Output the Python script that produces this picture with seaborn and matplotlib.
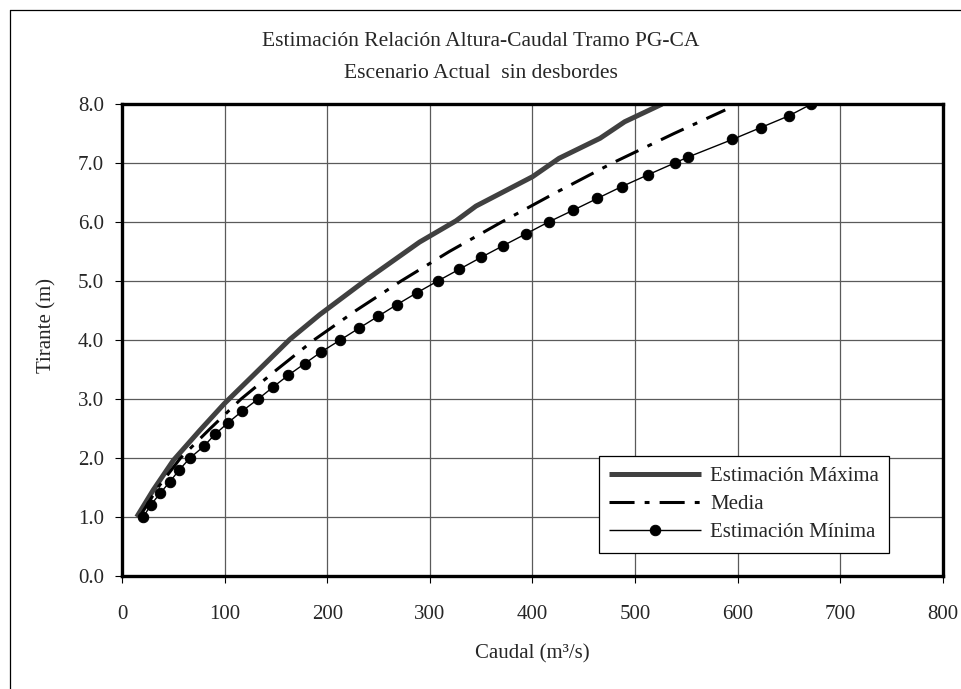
import numpy as np
import pandas as pd
import matplotlib
matplotlib.use("Agg")
import matplotlib.pyplot as plt
from matplotlib.lines import Line2D
import seaborn as sns

# ---- data ----
max_h = [1.0, 1.46, 1.96, 2.47, 2.92, 3.4, 4.01, 4.43, 5.02, 5.66, 6.02, 6.27, 6.77,
         7.08, 7.42, 7.7, 8.0]
max_q = [14.3, 30.5, 50.0, 75.9, 99.6, 127.8, 163.5, 192.7, 238.0, 290.0, 325.5, 345.0,
         400.3, 426.0, 466.0, 490.0, 526.5]

med_h = [1.0, 1.5, 2.0, 2.5, 3.0, 3.5, 4.0, 4.5, 5.0, 5.5, 6.0, 6.5, 7.0, 7.5, 7.9]
med_q = [17, 35, 57, 86, 116, 151, 187, 228, 272, 319, 370, 423, 478, 538, 588]

min_h = [1.0, 1.2, 1.4, 1.6, 1.8, 2.0, 2.2, 2.4, 2.6, 2.8, 3.0, 3.2, 3.4, 3.6, 3.8,
         4.0, 4.2, 4.4, 4.6, 4.8, 5.0, 5.2, 5.4, 5.6, 5.8, 6.0, 6.2, 6.4, 6.6, 6.8,
         7.0, 7.1, 7.4, 7.6, 7.8, 8.0]
min_q = [20.7, 27.9, 37.0, 46.7, 55.8, 66.2, 79.8, 90.5, 103.5, 117.4, 132.7, 147.0,
         161.8, 178.0, 194.3, 212.7, 230.9, 249.4, 267.9, 287.3, 307.7, 328.8, 349.9,
         371.6, 393.7, 415.7, 439.7, 463.3, 487.0, 512.6, 538.6, 551.6, 595.0, 622.5,
         650.0, 672.0]

labels = ["Estimación Máxima", "Media", "Estimación Mínima"]
x_ticks = [0, 100, 200, 300, 400, 500, 600, 700, 800]
y_ticks = [0.0, 1.0, 2.0, 3.0, 4.0, 5.0, 6.0, 7.0, 8.0]

# ---- style ----
sns.set_theme(style="white")
plt.rcParams['font.family'] = ['Liberation Serif', 'DejaVu Serif']
plt.rcParams['font.size'] = 15

FS = 15

fig = plt.figure(figsize=(9.61, 6.89), dpi=100)
ax = fig.add_axes([0.127, 0.164, 0.854, 0.685])

df_max = pd.DataFrame({"q": max_q, "h": max_h})
df_med = pd.DataFrame({"q": med_q, "h": med_h})
df_min = pd.DataFrame({"q": min_q, "h": min_h})

sns.lineplot(data=df_max, x="q", y="h", ax=ax, sort=False, estimator=None,
             color="#404040", linewidth=3.6, legend=False)
sns.lineplot(data=df_med, x="q", y="h", ax=ax, sort=False, estimator=None,
             color="black", linewidth=2.2, legend=False)
sns.lineplot(data=df_min, x="q", y="h", ax=ax, sort=False, estimator=None,
             color="black", linewidth=1.0, marker="o", markersize=7.5,
             markeredgecolor="black", markerfacecolor="black", legend=False)

lines = ax.get_lines()
lines[1].set_dashes((8.2, 3.3, 1.6, 3.3))
for ln in lines:
    ln.set_solid_capstyle("butt")
    ln.set_dash_capstyle("butt")
    ln.set_solid_joinstyle("round")

ax.set_xlim(0, 800)
ax.set_ylim(0, 8)
ax.set_xticks(x_ticks)
ax.set_yticks(y_ticks)
ax.set_xticklabels([str(t) for t in x_ticks])
ax.set_yticklabels([f"{t:.1f}" for t in y_ticks])
ax.grid(True, color="#5a5a5a", linewidth=0.9)
ax.set_axisbelow(True)
for sp in ax.spines.values():
    sp.set_visible(True)
    sp.set_color("black")
    sp.set_linewidth(2.4)

ax.tick_params(axis="x", direction="out", length=5, width=0.8, color="black",
               pad=16, labelsize=FS)
ax.tick_params(axis="y", direction="out", length=5, width=0.8, color="black",
               pad=8, labelsize=FS)
ax.xaxis.set_ticks_position("bottom")
ax.yaxis.set_ticks_position("left")

ax.set_xlabel("Caudal (m³/s)", fontsize=FS)
ax.set_ylabel("Tirante (m)", fontsize=FS)
ax.xaxis.set_label_coords(0.5, -0.145)
ax.yaxis.set_label_coords(-0.08, 0.53)

fig.text(0.5, 1 - 41 / 689, "Estimación Relación Altura-Caudal Tramo PG-CA",
         ha="center", va="center", fontsize=15.5)
fig.text(0.5, 1 - 73 / 689, "Escenario Actual  sin desbordes",
         ha="center", va="center", fontsize=15.5)

leg = ax.legend(lines, labels, loc="lower right", bbox_to_anchor=(0.935, 0.049),
                frameon=True, fancybox=False, shadow=False, framealpha=1,
                edgecolor="black", handlelength=4.4, handletextpad=0.45,
                labelspacing=0.42, borderpad=0.5, borderaxespad=0, fontsize=FS)
leg.get_frame().set_linewidth(0.9)

# outer chart border (left and top)
fig.add_artist(Line2D([10 / 961, 10 / 961], [0, 1 - 10 / 689], transform=fig.transFigure,
                      color="black", linewidth=0.9))
fig.add_artist(Line2D([10 / 961, 1], [1 - 10 / 689, 1 - 10 / 689], transform=fig.transFigure,
                      color="black", linewidth=0.9))

fig.savefig("out.png", dpi=100)
